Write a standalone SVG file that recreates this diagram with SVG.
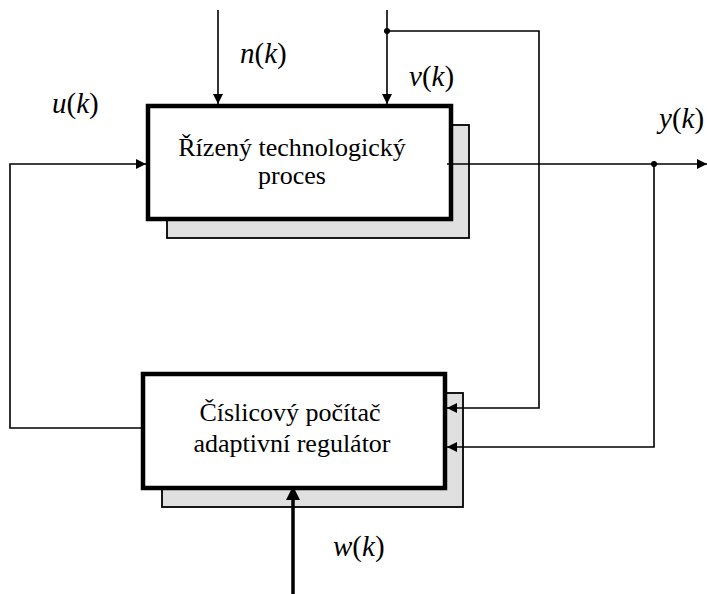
<svg xmlns="http://www.w3.org/2000/svg" width="707" height="594" viewBox="0 0 707 594">
<style>
.t{font-family:'Liberation Serif';font-size:26px;fill:#000}
.lab{font-family:'Liberation Serif';font-size:29px;fill:#000}
.box{fill:#fff;stroke:#000;stroke-width:4.5}
.shadow{fill:#e0e0e0;stroke:#000;stroke-width:1.8}
.ln{fill:none;stroke:#000;stroke-width:1.6}
.thick{fill:none;stroke:#000;stroke-width:3.5}
.i{font-style:italic}
</style>
<defs>
<marker id="ar" viewBox="0 0 10 10" refX="10" refY="5" markerWidth="10" markerHeight="10" markerUnits="userSpaceOnUse" orient="auto"><path d="M0,0L10,5L0,10z" fill="#000"/></marker>
<marker id="arB" viewBox="0 0 10 10" refX="10" refY="5" markerWidth="14" markerHeight="14" markerUnits="userSpaceOnUse" orient="auto"><path d="M0,0L10,5L0,10z" fill="#000"/></marker>
</defs>
<g id="process">
<rect class="shadow" x="167" y="125" width="302" height="113"/>
<rect class="box" x="148" y="106" width="303" height="113"/>
<text class="t" font-family="Times New Roman" x="292" y="156" text-anchor="middle">Řízený technologický</text>
<text class="t" font-family="Times New Roman" x="292" y="184" text-anchor="middle">proces</text>
</g>
<g id="controller">
<rect class="shadow" x="162" y="393" width="301" height="114"/>
<rect class="box" x="143" y="374" width="302" height="114"/>
<text class="t" font-family="Times New Roman" x="290" y="421" text-anchor="middle">Číslicový počítač</text>
<text class="t" font-family="Times New Roman" x="292" y="452" text-anchor="middle">adaptivní regulátor</text>
</g>
<g id="connectors">
<line class="ln" x1="218" y1="10" x2="218" y2="104" marker-end="url(#ar)"/>
<line class="ln" x1="387" y1="10" x2="387" y2="104" marker-end="url(#ar)"/>
<polyline class="ln" points="387,31 539,31 539,408 447,408" marker-end="url(#ar)"/>
<circle cx="387" cy="31" r="3" fill="#000"/>
<polyline class="ln" points="447,164 707,164" marker-end="url(#ar)"/>
<circle cx="654" cy="164" r="3" fill="#000"/>
<polyline class="ln" points="654,164 654,447 447,447" marker-end="url(#ar)"/>
<polyline class="ln" points="143,428 10,428 10,164 146,164" marker-end="url(#ar)"/>
<line class="thick" x1="293" y1="594" x2="293" y2="486" marker-end="url(#arB)"/>
</g>
<g id="labels">
<text class="lab" font-family="Times New Roman" x="52" y="113"><tspan class="i">u</tspan>(<tspan class="i">k</tspan>)</text>
<text class="lab" font-family="Times New Roman" x="240" y="63"><tspan class="i">n</tspan>(<tspan class="i">k</tspan>)</text>
<text class="lab" font-family="Times New Roman" x="409" y="86"><tspan class="i">v</tspan>(<tspan class="i">k</tspan>)</text>
<text class="lab" font-family="Times New Roman" x="659" y="128"><tspan class="i">y</tspan>(<tspan class="i">k</tspan>)</text>
<text class="lab" font-family="Times New Roman" x="333" y="556"><tspan class="i">w</tspan>(<tspan class="i">k</tspan>)</text>
</g>
</svg>
